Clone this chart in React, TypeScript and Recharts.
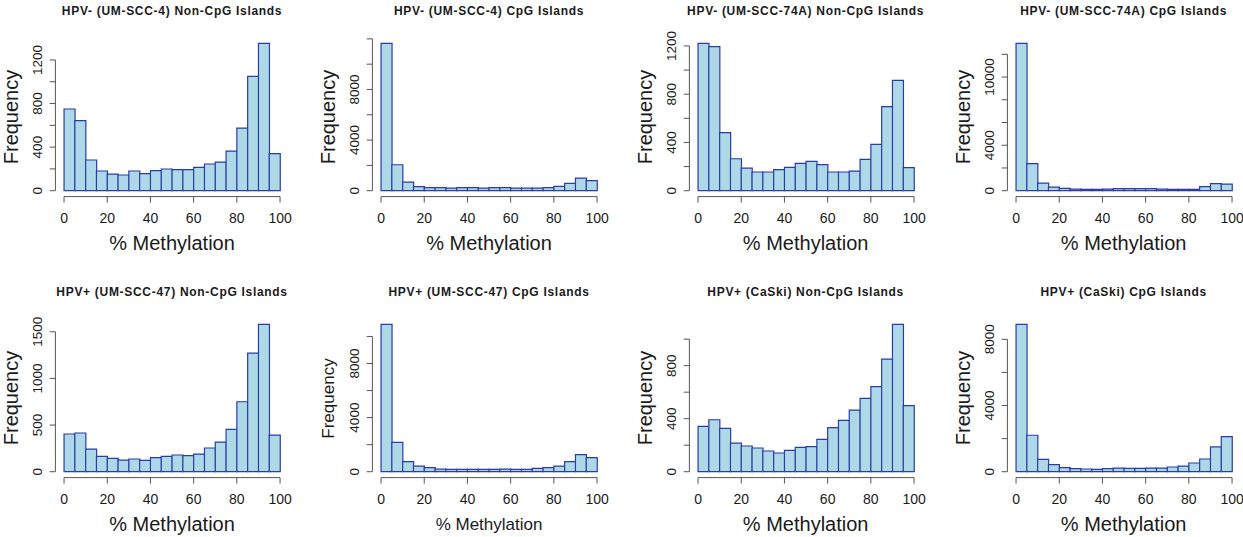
import React from 'react';
import { BarChart, Bar, XAxis, YAxis, ReferenceLine } from 'recharts';

// 5% methylation bins, plotted at their midpoints
const binMids = [2.5, 7.5, 12.5, 17.5, 22.5, 27.5, 32.5, 37.5, 42.5, 47.5, 52.5, 57.5, 62.5, 67.5, 72.5, 77.5, 82.5, 87.5, 92.5, 97.5];
const xTicks = [0, 20, 40, 60, 80, 100];

const umscc4NonCpg = [750, 643, 282, 181, 153, 144, 181, 156, 184, 199, 193, 193, 214, 245, 263, 364, 575, 1050, 1353, 340];
const umscc4Cpg = [11650, 2053, 684, 316, 237, 237, 210, 237, 237, 210, 237, 237, 210, 210, 210, 237, 342, 579, 1000, 789];
const umscc74aNonCpg = [1222, 1194, 481, 265, 188, 155, 155, 174, 194, 227, 243, 216, 155, 155, 163, 260, 384, 697, 915, 191];
const umscc74aCpg = [12970, 2377, 675, 323, 205, 147, 117, 117, 147, 176, 176, 176, 176, 147, 117, 117, 117, 352, 616, 587];
const umscc47NonCpg = [404, 415, 243, 164, 143, 125, 136, 122, 150, 164, 179, 172, 189, 254, 318, 454, 750, 1272, 1580, 393];
const umscc47Cpg = [10900, 2170, 740, 419, 296, 197, 173, 173, 173, 173, 173, 197, 173, 173, 247, 296, 419, 740, 1258, 1036];
const caskiNonCpg = [342, 392, 327, 216, 194, 179, 156, 141, 161, 184, 189, 244, 332, 387, 465, 553, 642, 850, 1112, 498];
const caskiCpg = [8909, 2202, 747, 424, 242, 182, 162, 141, 182, 222, 202, 202, 222, 222, 283, 343, 525, 768, 1495, 2121];

const panelTitles = [
  'HPV- (UM-SCC-4) Non-CpG Islands',
  'HPV- (UM-SCC-4) CpG Islands',
  'HPV- (UM-SCC-74A) Non-CpG Islands',
  'HPV- (UM-SCC-74A) CpG Islands',
  'HPV+ (UM-SCC-47) Non-CpG Islands',
  'HPV+ (UM-SCC-47) CpG Islands',
  'HPV+ (CaSki) Non-CpG Islands',
  'HPV+ (CaSki) CpG Islands',
];
const panelCounts = [umscc4NonCpg, umscc4Cpg, umscc74aNonCpg, umscc74aCpg, umscc47NonCpg, umscc47Cpg, caskiNonCpg, caskiCpg];
const panelYTicks = [
  [0, 200, 400, 600, 800, 1000, 1200],
  [0, 2000, 4000, 6000, 8000, 10000, 12000],
  [0, 200, 400, 600, 800, 1000, 1200],
  [0, 2000, 4000, 6000, 8000, 10000, 12000],
  [0, 500, 1000, 1500],
  [0, 2000, 4000, 6000, 8000, 10000],
  [0, 200, 400, 600, 800, 1000],
  [0, 2000, 4000, 6000, 8000],
];
const panelYLabels = [
  [0, 400, 800, 1200],
  [0, 4000, 8000],
  [0, 400, 800, 1200],
  [0, 4000, 10000],
  [0, 500, 1000, 1500],
  [0, 4000, 8000],
  [0, 400, 800],
  [0, 4000, 8000],
];

const FONT = '"Liberation Sans", Arial, Helvetica, sans-serif';
const INK = '#1a1a1a';
const AXIS = '#555';

const PANEL_W = 317;
const PANEL_H = 281;
const PLOT_L = 55.4;
const PLOT_W = 233.3;
const PLOT_T = 37.4;
const PLOT_H = 159.2;
const panelLefts = [0, 317, 633.6, 951.6];
const panelTops = [0, 281];

const XTick = (props: any) => {
  const { x, y, payload } = props;
  return (
    <g>
      <line x1={x} y1={y} x2={x} y2={y + 6} stroke={AXIS} strokeWidth={1} />
      <text x={x} y={y + 26.7} textAnchor="middle" fontSize={14} fontFamily={FONT} fill={INK}>
        {payload.value}
      </text>
    </g>
  );
};

const YTick = (props: any) => {
  const { x, y, payload, labels } = props;
  const shown = labels.includes(payload.value);
  return (
    <g>
      <line x1={x - 5.7} y1={y} x2={x} y2={y} stroke={AXIS} strokeWidth={1} />
      {shown && (
        <text
          x={x - 13.4}
          y={y}
          transform={`rotate(-90, ${x - 13.4}, ${y})`}
          textAnchor="middle"
          fontSize={13.5}
          fontFamily={FONT}
          fill={INK}
        >
          {payload.value}
        </text>
      )}
    </g>
  );
};

type PanelProps = {
  title: string;
  counts: number[];
  yTicks: number[];
  yLabels: number[];
  left: number;
  top: number;
  small: boolean;
};

const Panel = ({ title, counts, yTicks, yLabels, left, top, small }: PanelProps) => {
  const data = binMids.map((mid, i) => ({ mid, count: counts[i] }));
  const max = Math.max(...counts);
  const yDomain = [-0.04 * max, 1.04 * max];
  const labelSize = small ? 17 : 20;
  const cx = PLOT_L + PLOT_W / 2;
  const cy = PLOT_T + PLOT_H / 2;

  return (
    <div style={{ position: 'absolute', left, top, width: PANEL_W, height: PANEL_H }}>
      <BarChart
        width={PANEL_W}
        height={PANEL_H}
        data={data}
        barCategoryGap={0}
        barGap={0}
        margin={{
          top: PLOT_T,
          left: PLOT_L - 1,
          right: PANEL_W - PLOT_L - PLOT_W,
          bottom: PANEL_H - PLOT_T - PLOT_H - 1,
        }}
      >
        <XAxis
          type="number"
          dataKey="mid"
          domain={[-4, 104]}
          ticks={xTicks}
          allowDataOverflow
          interval={0}
          height={1}
          axisLine={false}
          tickLine={false}
          tickSize={0}
          tickMargin={0}
          tick={(p: any) => <XTick {...p} />}
        />
        <YAxis
          type="number"
          domain={yDomain}
          ticks={yTicks}
          allowDataOverflow
          interval={0}
          width={1}
          axisLine={false}
          tickLine={false}
          tickSize={0}
          tickMargin={0}
          tick={(p: any) => <YTick {...p} labels={yLabels} />}
        />
        <ReferenceLine
          segment={[{ x: 0, y: yDomain[0] }, { x: 100, y: yDomain[0] }]}
          stroke={AXIS}
          strokeWidth={1}
          ifOverflow="visible"
        />
        <ReferenceLine
          segment={[{ x: -4, y: 0 }, { x: -4, y: yTicks[yTicks.length - 1] }]}
          stroke={AXIS}
          strokeWidth={1}
          ifOverflow="visible"
        />
        <Bar dataKey="count" fill="#ADD8E6" stroke="#2a3bb0" strokeWidth={1.2} isAnimationActive={false} />
      </BarChart>

      <div
        style={{
          position: 'absolute',
          left: cx - 150,
          width: 300,
          top: 4,
          textAlign: 'center',
          fontFamily: FONT,
          fontWeight: 'bold',
          fontSize: 12,
          letterSpacing: 0.7,
          color: INK,
          whiteSpace: 'nowrap',
        }}
      >
        {title}
      </div>
      <div
        style={{
          position: 'absolute',
          left: cx - 100,
          width: 200,
          top: 245 - labelSize * 0.6,
          textAlign: 'center',
          fontFamily: FONT,
          fontSize: labelSize,
          color: INK,
          lineHeight: 1,
          whiteSpace: 'nowrap',
        }}
      >
        % Methylation
      </div>
      <div
        style={{
          position: 'absolute',
          left: 11 - 60,
          top: cy - labelSize / 2,
          width: 120,
          height: labelSize,
          textAlign: 'center',
          fontFamily: FONT,
          fontSize: labelSize,
          color: INK,
          lineHeight: 1,
          whiteSpace: 'nowrap',
          transform: 'rotate(-90deg)',
        }}
      >
        Frequency
      </div>
    </div>
  );
}

export default function App() {
  return (
    <div
      style={{
        position: 'absolute',
        left: 0,
        top: 0,
        width: 1243,
        height: 537,
        overflow: 'hidden',
        background: '#fff',
      }}
    >
      {panelTitles.map((title, i) => (
        <Panel
          key={title}
          title={title}
          counts={panelCounts[i]}
          yTicks={panelYTicks[i]}
          yLabels={panelYLabels[i]}
          left={panelLefts[i % 4]}
          top={panelTops[Math.floor(i / 4)]}
          small={i === 5}
        />
      ))}
    </div>
  );
}
